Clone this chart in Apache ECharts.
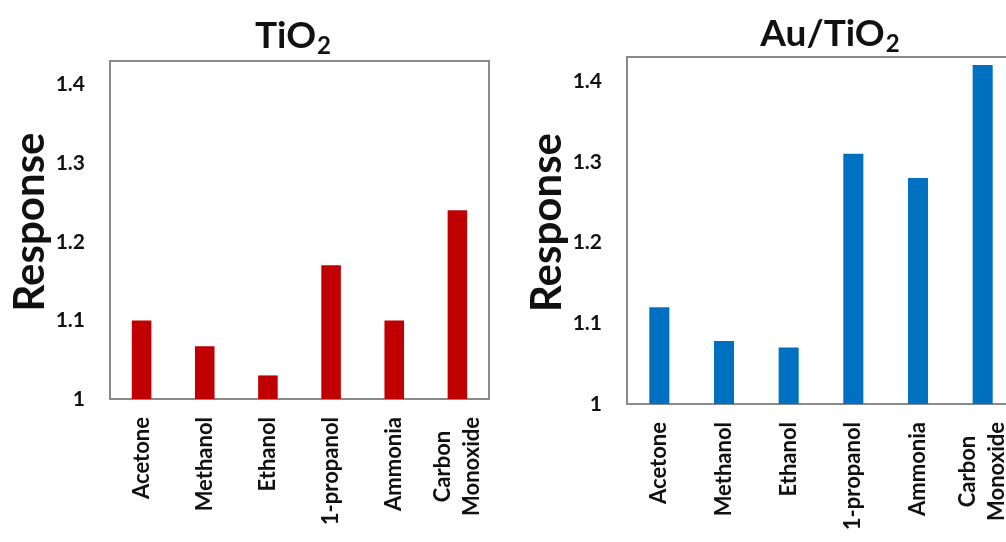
<!DOCTYPE html>
<html>
<head>
<meta charset="utf-8">
<script src="https://cdn.jsdelivr.net/npm/echarts@6/dist/echarts.min.js"></script>
<style>
html,body{margin:0;padding:0;background:#fff;}
#chart{width:1006px;height:542px;}
</style>
</head>
<body>
<div id="chart"></div>
<script>
var categories = ['Acetone', 'Methanol', 'Ethanol', '1-propanol', 'Ammonia', 'Carbon\nMonoxide'];
var tio2Values = [1.10, 1.067, 1.03, 1.17, 1.10, 1.24];
var auTio2Values = [1.12, 1.078, 1.07, 1.31, 1.28, 1.42];
var yMin = 1;
var yMax = 1.43;
var yStep = 0.1;
var yAxisTitle = 'Response';

var FONT = 'Lato';
var TXT = '#111';
var BORDER = '#8a8a8a';

function yLabel(v) {
  var r = Math.round(v * 100) / 100;
  if (Math.abs(Math.round(r * 10) - r * 10) > 1e-6) return '';
  return String(r);
}
function xLabel(v) {
  return v.split('\n').map(function (s) { return '{c|' + s + '}'; }).join('\n');
}

function makeX(gi) {
  return {
    type: 'category', gridIndex: gi, data: categories,
    axisLine: { lineStyle: { color: BORDER, width: 2 } },
    axisTick: { show: false },
    axisLabel: {
      rotate: 90, margin: 18, interval: 0,
      formatter: xLabel,
      color: TXT, fontFamily: FONT, fontWeight: 'bold', fontSize: 22,
      rich: { c: { align: 'center', color: TXT, fontFamily: FONT, fontWeight: 'bold', fontSize: 22, lineHeight: 29 } }
    }
  };
}
function makeY(gi) {
  return {
    type: 'value', gridIndex: gi, min: yMin, max: yMax, interval: yStep,
    name: yAxisTitle, nameLocation: 'middle', nameRotate: 90, nameGap: 56,
    nameTextStyle: { color: TXT, fontFamily: FONT, fontWeight: 'bold', fontSize: 42, padding: [0, 0, 0, 16] },
    axisLine: { show: false }, axisTick: { show: false }, splitLine: { show: false },
    axisLabel: { showMaxLabel: false, margin: 25, formatter: yLabel, color: TXT, fontFamily: FONT, fontWeight: 'bold', fontSize: 21 }
  };
}
var titleRich = {
  a: { fontFamily: FONT, fontWeight: 'bold', fontSize: 37, color: TXT },
  s: { fontFamily: FONT, fontWeight: 'bold', fontSize: 24, color: TXT, padding: [19, 0, 0, 1] }
};

var option = {
  animation: false,
  backgroundColor: '#fff',
  title: [
    { text: '{a|TiO}{s|2}', left: 288, top: 10, textAlign: 'center', textStyle: { rich: titleRich } },
    { text: '{a|Au/TiO}{s|2}', left: 825, top: 8, textAlign: 'center', textStyle: { rich: titleRich } }
  ],
  grid: [
    { left: 110, top: 61, width: 379, height: 338, show: true, borderColor: BORDER, borderWidth: 2, containLabel: false, outerBoundsMode: 'none' },
    { left: 627, top: 57, width: 388, height: 347, show: true, borderColor: BORDER, borderWidth: 2, containLabel: false, outerBoundsMode: 'none' }
  ],
  xAxis: [makeX(0), makeX(1)],
  yAxis: [makeY(0), makeY(1)],
  series: [
    { type: 'bar', xAxisIndex: 0, yAxisIndex: 0, data: tio2Values, barWidth: '31%', itemStyle: { color: '#C00000' } },
    { type: 'bar', xAxisIndex: 1, yAxisIndex: 1, data: auTio2Values, barWidth: '31%', itemStyle: { color: '#0070C0' } }
  ]
};
var chart = echarts.init(document.getElementById('chart'), null, { renderer: 'canvas' });
chart.setOption(option);
</script>
</body>
</html>
